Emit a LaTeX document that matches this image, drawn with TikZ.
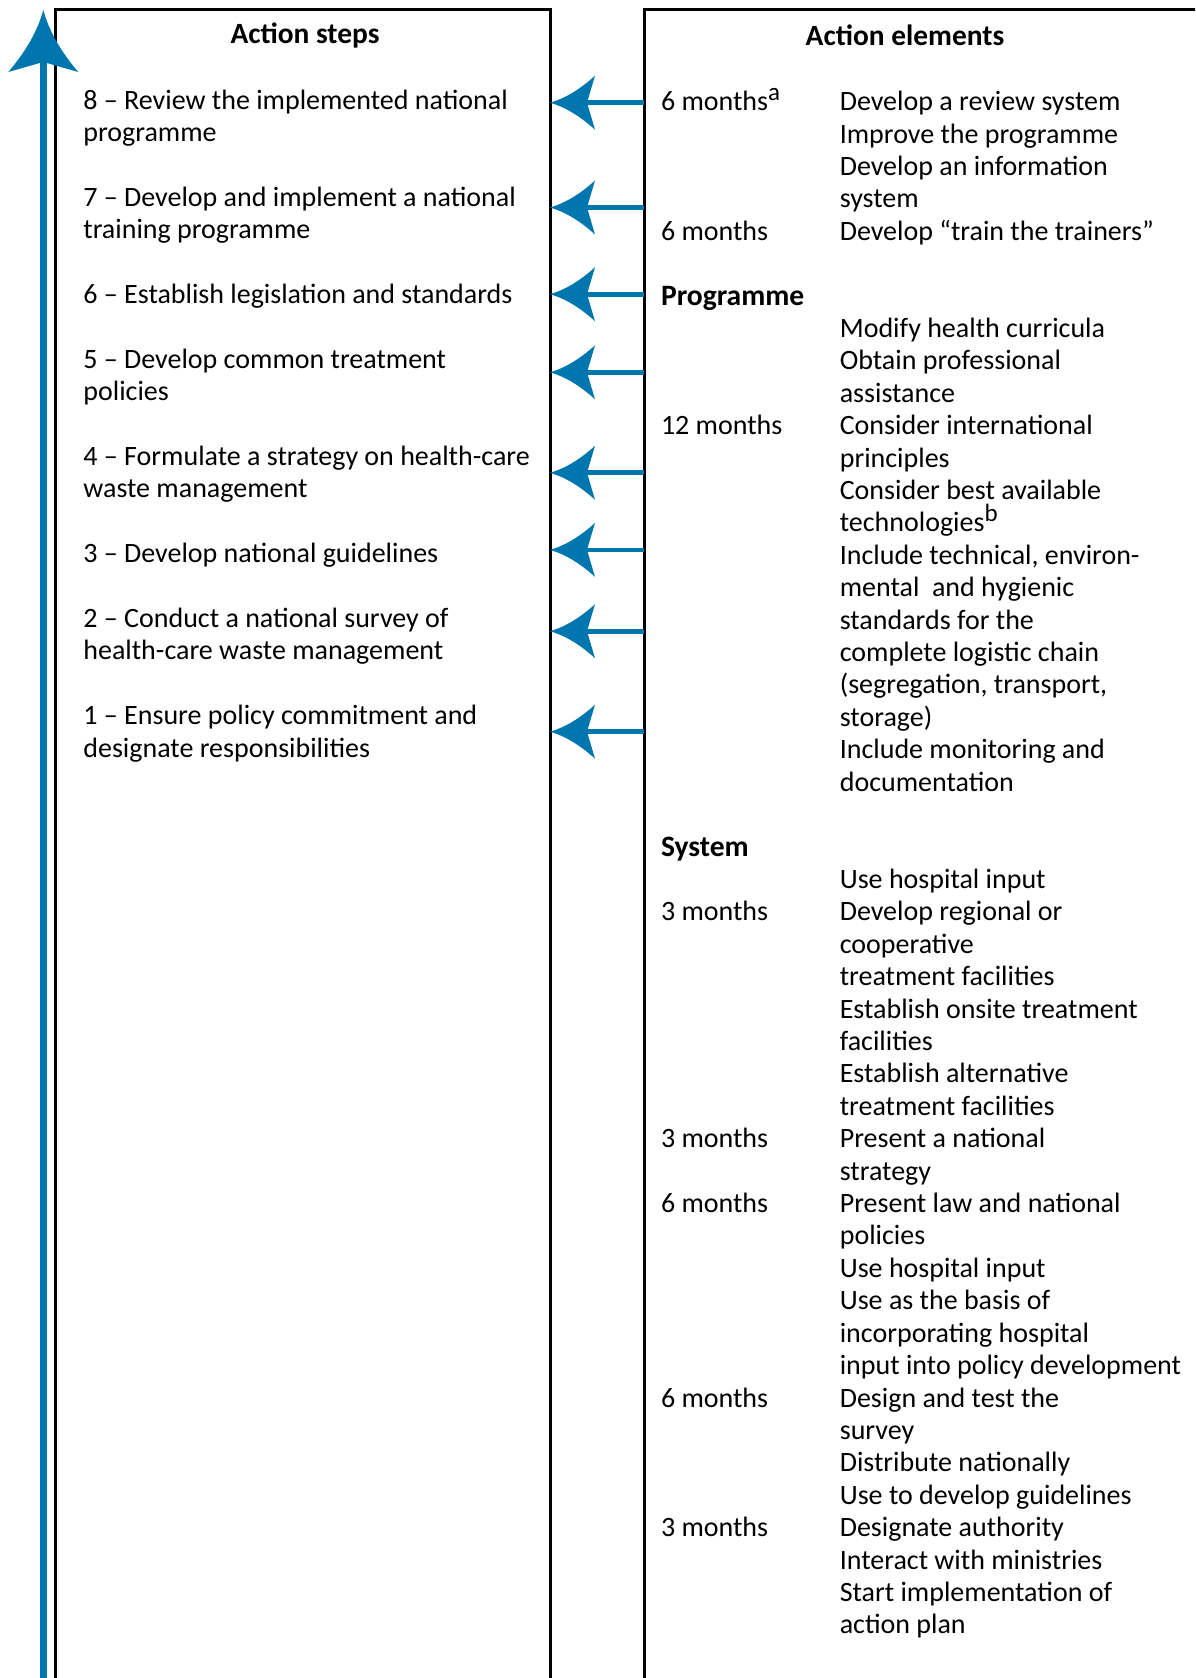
\documentclass[tikz,border=0pt]{standalone}
\usepackage{fontspec}
\setmainfont{Carlito}
\usetikzlibrary{arrows.meta}
\definecolor{wblue}{RGB}{0,118,174}
\newcommand{\mysup}[1]{\raisebox{10pt}{\fontsize{25}{25}\selectfont #1}}
\newdimen\barbtmp
\pgfdeclarearrow{
  name=Barb,
  parameters={\the\pgfarrowlength,\the\pgfarrowwidth,\the\pgfarrowinset},
  setup code={
    \pgfarrowssettipend{0pt}
    \pgfarrowssetbackend{-\pgfarrowlength}
    \barbtmp=\pgfarrowinset
    \advance\barbtmp by -\pgfarrowlength
    \pgfarrowssetlineend{\barbtmp}
    \pgfarrowssavethe\pgfarrowlength
    \pgfarrowssavethe\pgfarrowwidth
    \pgfarrowssavethe\pgfarrowinset
  },
  drawing code={
    \pgfpathmoveto{\pgfpointorigin}
    \pgfpathquadraticcurveto{\pgfpoint{-0.5\pgfarrowlength}{0.12\pgfarrowwidth}}{\pgfpoint{-\pgfarrowlength}{0.5\pgfarrowwidth}}
    \pgfpathlineto{\pgfpoint{-\pgfarrowlength+\pgfarrowinset}{0pt}}
    \pgfpathlineto{\pgfpoint{-\pgfarrowlength}{-0.5\pgfarrowwidth}}
    \pgfpathquadraticcurveto{\pgfpoint{-0.5\pgfarrowlength}{-0.12\pgfarrowwidth}}{\pgfpointorigin}
    \pgfpathclose
    \pgfusepathqfill
  },
  defaults={length=44pt,width=53pt,inset=8pt}
}
\tikzset{
  boxst/.style={draw=black, line width=3pt, inner sep=0pt, outer sep=0pt, anchor=north west},
  harr/.style={color=wblue, line width=4.7pt, -{Barb[length=45pt,width=54pt,inset=8pt]}},
  varr/.style={color=wblue, line width=6.7pt, -{Barb[length=62pt,width=70pt,inset=10pt]}},
  txt/.style={anchor=base west, inner sep=0pt, outer sep=0pt, font=\fontsize{28}{32.41}\selectfont},
  ttl/.style={anchor=base, inner sep=0pt, outer sep=0pt, font=\fontsize{29.4}{32.41}\selectfont\bfseries},
  hdr/.style={txt, font=\fontsize{29.6}{32.41}\selectfont\bfseries},
}
\begin{document}
\begin{tikzpicture}[x=1pt,y=-1pt]
\useasboundingbox (0,0) rectangle (1195,1678);
\clip (0,0) rectangle (1195,1678);
% boxes
\node[boxst, minimum width=494.3pt, minimum height=1720pt] (steps) at (55.7,10) {};
\node[boxst, minimum width=700pt, minimum height=1720pt] (elements) at (644,10) {};
% titles
\node[ttl] (t1) at (305,44) {Action steps};
\node[ttl] (t2) at (905,45.5) {Action elements};
% action steps
\foreach \k/\t in {
  0/{8 – Review the implemented national},
  1/{programme},
  3/{7 – Develop and implement a national},
  4/{training programme},
  6/{6 – Establish legislation and standards},
  8/{5 – Develop common treatment},
  9/{policies},
  11/{4 – Formulate a strategy on health-care},
  12/{waste management},
  14/{3 – Develop national guidelines},
  16/{2 – Conduct a national survey of},
  17/{health-care waste management},
  19/{1 – Ensure policy commitment and},
  20/{designate responsibilities}}
  \node[txt] (s\k) at (83.4,{109+32.41*\k}) {\t};
% durations
\foreach \k/\t in {
  0/{6 months\mysup{a}},
  4/{6 months},
  10/{12 months},
  25/{3 months},
  32/{3 months},
  34/{6 months},
  40/{6 months},
  44/{3 months}}
  \node[txt] (m\k) at (661,{110.6+32.41*\k}) {\t};
\node[hdr] (hp) at (661,{110.6+32.41*6}) {Programme};
\node[hdr] (hs) at (661,{110.6+32.41*23}) {System};
% element lines
\foreach \k/\t in {
  0/{Develop a review system},
  1/{Improve the programme},
  2/{Develop an information},
  3/{system},
  4/{Develop “train the trainers”},
  7/{Modify health curricula},
  8/{Obtain professional},
  9/{assistance},
  10/{Consider international},
  11/{principles},
  12/{Consider best available},
  13/{technologies\mysup{b}},
  14/{Include technical, environ-},
  15/{mental\ \ and hygienic},
  16/{standards for the},
  17/{complete logistic chain},
  18/{(segregation, transport,},
  19/{storage)},
  20/{Include monitoring and},
  21/{documentation},
  24/{Use hospital input},
  25/{Develop regional or},
  26/{cooperative},
  27/{treatment facilities},
  28/{Establish onsite treatment},
  29/{facilities},
  30/{Establish alternative},
  31/{treatment facilities},
  32/{Present a national},
  33/{strategy},
  34/{Present law and national},
  35/{policies},
  36/{Use hospital input},
  37/{Use as the basis of},
  38/{incorporating hospital},
  39/{input into policy development},
  40/{Design and test the},
  41/{survey},
  42/{Distribute nationally},
  43/{Use to develop guidelines},
  44/{Designate authority},
  45/{Interact with ministries},
  46/{Start implementation of},
  47/{action plan}}
  \node[txt] (e\k) at (839.8,{110.6+32.41*\k}) {\t};
% horizontal connectors
\foreach \j/\yy in {1/102.7,2/207.5,3/294.2,4/372.3,5/472.8,6/549.9,7/631.2,8/731.7}{
  \coordinate (h\j) at (elements.west |- 0,\yy);
  \draw[harr] (h\j) -- (steps.east |- h\j);
}
% vertical arrow
\coordinate (vb) at (43.3,1700);
\coordinate (vt) at (43.3,10);
\draw[varr] (vb) -- (vt);
\end{tikzpicture}
\end{document}
